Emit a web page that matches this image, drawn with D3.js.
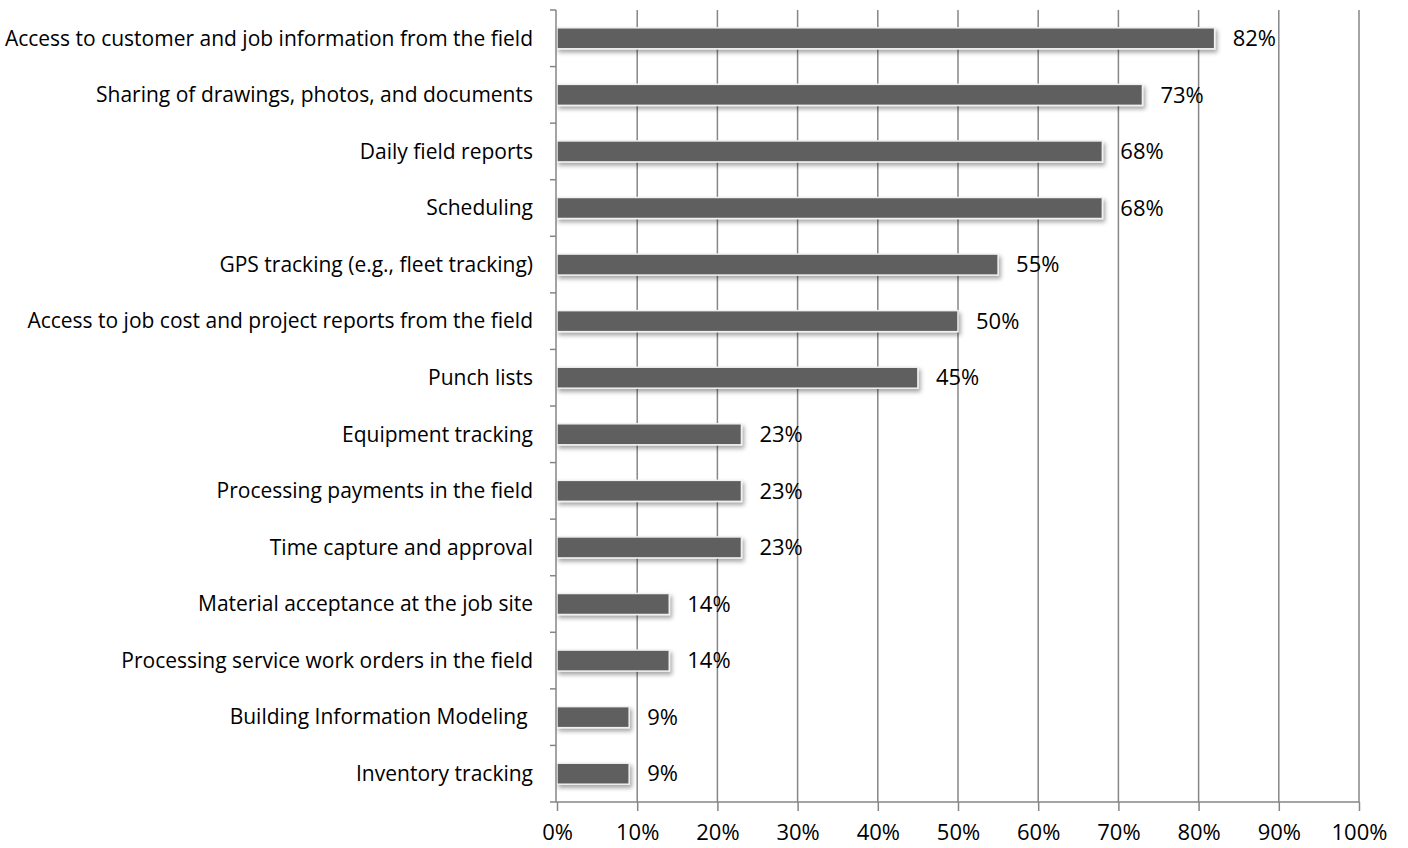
<!DOCTYPE html>
<html>
<head>
<meta charset="utf-8">
<script src="https://cdn.jsdelivr.net/npm/d3@7"></script>
<style>
  html, body { margin: 0; padding: 0; background: #fff; }
  text { font-family: "Open Sans", sans-serif; font-size: 21px; fill: #000; }
</style>
</head>
<body>
<div id="chart"></div>
<script>
// categories top to bottom, with their share in percent
const categories = [
  'Access to customer and job information from the field',
  'Sharing of drawings, photos, and documents',
  'Daily field reports',
  'Scheduling',
  'GPS tracking (e.g., fleet tracking)',
  'Access to job cost and project reports from the field',
  'Punch lists',
  'Equipment tracking',
  'Processing payments in the field',
  'Time capture and approval',
  'Material acceptance at the job site',
  'Processing service work orders in the field',
  'Building Information Modeling ',
  'Inventory tracking'
];
const values = [82, 73, 68, 68, 55, 50, 45, 23, 23, 23, 14, 14, 9, 9];
const xTicks = [0, 10, 20, 30, 40, 50, 60, 70, 80, 90, 100];

const W = 1408, H = 848;
const margin = { top: 10, right: 49, bottom: 46, left: 557 };
const width = W - margin.left - margin.right;
const height = H - margin.top - margin.bottom;

const svg = d3.select('#chart')
  .append('svg')
  .attr('width', W)
  .attr('height', H);

// soft drop shadow under the bars
const defs = svg.append('defs');
const f = defs.append('filter')
  .attr('id', 'shadow')
  .attr('x', '-5%').attr('y', '-30%')
  .attr('width', '115%').attr('height', '190%');
f.append('feDropShadow')
  .attr('dx', 2).attr('dy', 3)
  .attr('stdDeviation', 2)
  .attr('flood-color', '#000')
  .attr('flood-opacity', 0.35);

const g = svg.append('g')
  .attr('transform', `translate(${margin.left},${margin.top})`);

const x = d3.scaleLinear().domain([0, 100]).range([0, width]);
const y = d3.scaleBand().domain(categories).range([0, height]);

// vertical gridlines
g.selectAll('.grid')
  .data(xTicks.filter(d => d > 0))
  .join('line')
  .attr('class', 'grid')
  .attr('x1', d => x(d)).attr('x2', d => x(d))
  .attr('y1', 0).attr('y2', height)
  .attr('stroke', '#868686')
  .attr('stroke-width', 1.5);

// bars
g.selectAll('.bar')
  .data(values)
  .join('rect')
  .attr('class', 'bar')
  .attr('x', x(0))
  .attr('y', (d, i) => y(categories[i]) + y.bandwidth() / 2 - 10.5)
  .attr('width', d => x(d) - x(0))
  .attr('height', 21)
  .attr('fill', '#5f5f5f')
  .attr('stroke', '#f0f0f0')
  .attr('stroke-width', 1.5)
  .attr('filter', 'url(#shadow)');

// value labels
g.selectAll('.val')
  .data(values)
  .join('text')
  .attr('class', 'val')
  .attr('x', d => x(d) + 18)
  .attr('y', (d, i) => y(categories[i]) + y.bandwidth() / 2)
  .attr('dy', '0.35em')
  .style('font-size', '22px')
  .text(d => d + '%');

// y axis: line with outward ticks at the band boundaries
const yAxis = g.append('g').attr('transform', 'translate(-1,0)');
yAxis.append('line')
  .attr('x1', 0).attr('x2', 0)
  .attr('y1', 0).attr('y2', height)
  .attr('stroke', '#868686').attr('stroke-width', 1.5);
yAxis.selectAll('.ytick')
  .data(d3.range(categories.length + 1))
  .join('line')
  .attr('class', 'ytick')
  .attr('x1', -6).attr('x2', 0)
  .attr('y1', i => i * y.step()).attr('y2', i => i * y.step())
  .attr('stroke', '#868686').attr('stroke-width', 1.5);
yAxis.selectAll('.ylab')
  .data(categories)
  .join('text')
  .attr('class', 'ylab')
  .attr('x', -23)
  .attr('y', d => y(d) + y.bandwidth() / 2)
  .attr('dy', '0.35em')
  .attr('text-anchor', 'end')
  .style('white-space', 'pre')
  .text(d => d);

// x axis
const xAxis = g.append('g')
  .attr('transform', `translate(0,${height})`)
  .call(d3.axisBottom(x).tickValues(xTicks).tickFormat(d => d + '%').tickSize(9).tickPadding(13));
xAxis.select('.domain').attr('stroke', '#868686').attr('stroke-width', 1.5)
  .attr('d', `M-1,0H${width}`);
xAxis.selectAll('.tick line').attr('stroke', '#868686').attr('stroke-width', 1.5);
xAxis.selectAll('.tick text')
  .style('font-family', '"Open Sans", sans-serif')
  .style('font-size', '22px')
  .attr('fill', '#000');
</script>
</body>
</html>
